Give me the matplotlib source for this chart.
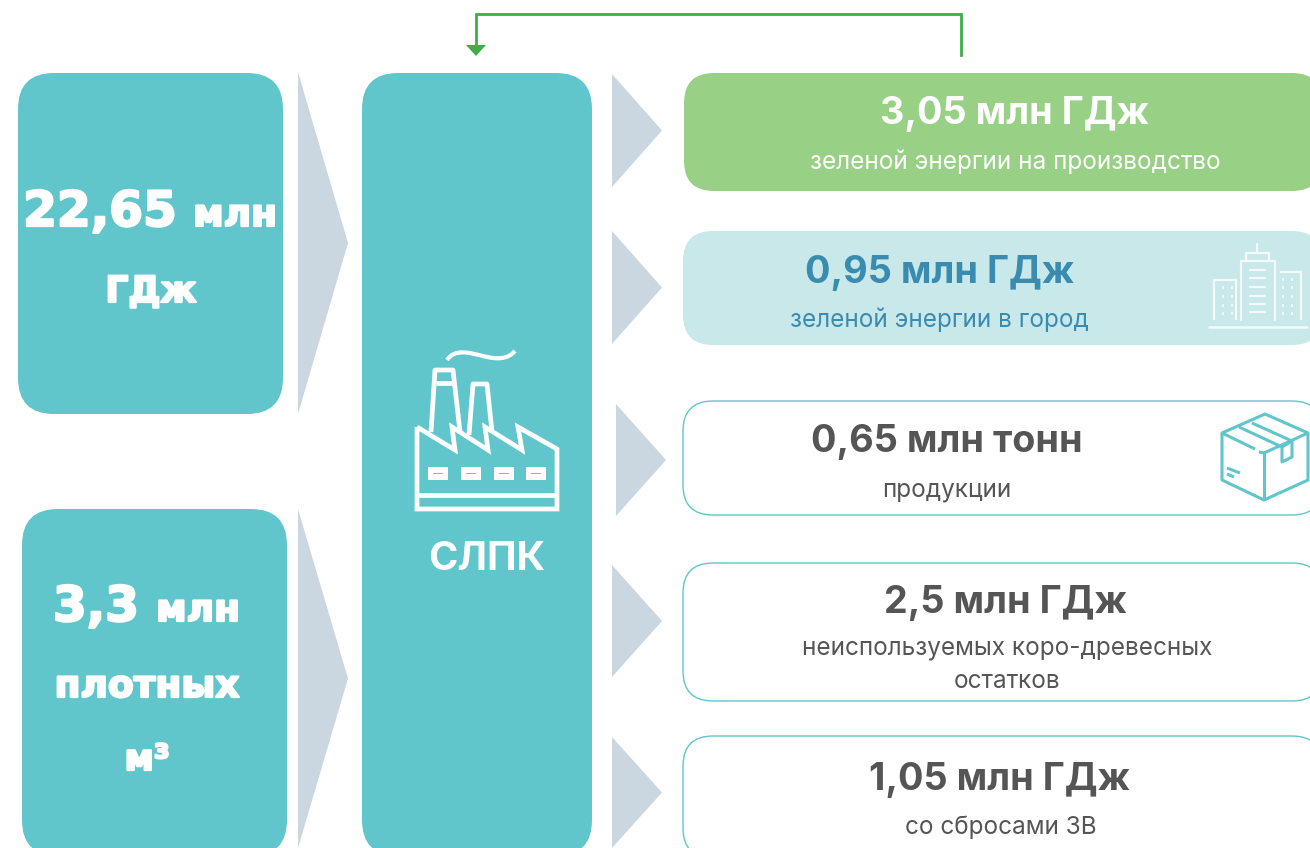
import matplotlib
matplotlib.use('Agg')
import matplotlib.pyplot as plt
import matplotlib.patheffects as pe
from matplotlib.patches import FancyBboxPatch, Polygon, PathPatch
from matplotlib.path import Path

plt.rcParams['font.family'] = ['Inter', 'DejaVu Sans']

W, H = 1310, 848
TEAL = '#60c6cc'
ARROW = '#cad6e0'
GREEN = '#98d085'
LIGHT = '#c9e8ea'
BLUE = '#3a8bb0'
GRAY = '#555555'
LINE = '#3fae49'

# output boxes: value, description
out_values = ['3,05 млн ГДж', '0,95 млн ГДж', '0,65 млн тонн', '2,5 млн ГДж', '1,05 млн ГДж']
out_labels = ['зеленой энергии на производство', 'зеленой энергии в город', 'продукции',
              'неиспользуемых коро-древесных\nостатков', 'со сбросами ЗВ']

fig = plt.figure(figsize=(W / 100, H / 100), dpi=100)
ax = fig.add_axes([0, 0, 1, 1])
ax.set_xlim(0, W)
ax.set_ylim(H, 0)
ax.axis('off')


def box(x0, y0, x1, y1, r, fc, ec='none', lw=1.0):
    p = FancyBboxPatch((x0 + r, y0 + r), x1 - x0 - 2 * r, y1 - y0 - 2 * r,
                       boxstyle='round,pad=%f,rounding_size=%f' % (r, r),
                       fc=fc, ec=ec, lw=lw)
    ax.add_patch(p)


def arrow(x0, x1, y0, y1):
    ax.add_patch(Polygon([(x0, y0), (x1, (y0 + y1) / 2), (x0, y1)], fc=ARROW, ec='none'))


def line(xs, ys, lw=3.4, c='white', cap='butt', join='miter'):
    ax.plot(xs, ys, color=c, lw=lw, solid_capstyle=cap, solid_joinstyle=join)


# left and middle blocks
box(18, 73, 283, 414, 36, TEAL)
box(22, 509, 287, 856, 36, TEAL)
box(362, 73, 592, 856, 36, TEAL)

arrow(298, 348, 72, 414)
arrow(298, 348, 509, 848)
arrow(612, 662, 74, 187)
arrow(612, 662, 231, 344)
arrow(616, 666, 404, 516)
arrow(612, 662, 565, 677)
arrow(612, 662, 737, 848)

# right blocks
box(684, 73, 1322, 191, 30, GREEN)
box(683, 231, 1322, 345, 30, LIGHT)
box(683, 401, 1322, 515, 30, 'white', TEAL, 1.0)
box(683, 563, 1322, 701, 30, 'white', TEAL, 1.0)
box(683, 736, 1322, 858, 30, 'white', TEAL, 1.0)

# recycle line on top
ax.plot([961, 961, 476, 476], [55, 14, 14, 46], color=LINE, lw=2, solid_joinstyle='miter')
ax.add_patch(Polygon([(466, 45), (486, 45), (476, 56)], fc=LINE, ec='none'))

# left text, DejaVu bold with a stroke gets near the black weight
heavy = dict(family=['DejaVu Sans'], weight='bold', color='white', ha='center', va='center',
             path_effects=[pe.withStroke(linewidth=1.6, foreground='white')])
ax.text(100, 212, '22,65', fontsize=35, **heavy)
ax.text(235, 216, 'млн', fontsize=27, **heavy)
ax.text(151, 292, 'ГДж', fontsize=26, **heavy)
ax.text(96, 607, '3,3', fontsize=35, **heavy)
ax.text(198, 611, 'млн', fontsize=27, **heavy)
ax.text(147, 687, 'плотных', fontsize=27, **heavy)
ax.text(147, 760, 'м³', fontsize=26, **heavy)

ax.text(487, 560, 'СЛПК', fontsize=28.5, ha='center', va='center', color='white', weight='bold')

# right text
val_x = [1015, 940, 947, 1006, 1000]
val_y = [114, 273, 442, 603, 780]
val_c = ['white', BLUE, GRAY, GRAY, GRAY]
lab_x = [1015, 939, 947, 1007, 1001]
lab_y = [162, 320, 490, 665, 827]
lab_c = ['white', BLUE, GRAY, GRAY, GRAY]
for i in range(5):
    ax.text(val_x[i], val_y[i], out_values[i], fontsize=27.2, weight='bold', color=val_c[i],
            ha='center', va='center')
    ax.text(lab_x[i], lab_y[i], out_labels[i], fontsize=17.5, color=lab_c[i], ha='center',
            va='center', linespacing=1.5)

# factory icon
line([417, 455, 452, 488, 485, 522, 518, 557, 557, 417, 417],
     [427, 450, 427, 450, 427, 450, 427, 449, 509, 509, 427])
line([417, 557], [495, 495])
line([431, 435, 453, 460], [432, 370, 370, 432], join='round')
line([436, 455], [383, 383])
line([469, 473, 487, 492], [435, 384, 384, 432], join='round')
smoke = Path([(447, 360), (455, 348), (470, 353), (483, 356), (498, 360), (508, 359), (515, 351)],
             [Path.MOVETO, Path.CURVE4, Path.CURVE4, Path.CURVE4, Path.CURVE4, Path.CURVE4, Path.CURVE4])
ax.add_patch(PathPatch(smoke, fc='none', ec='white', lw=3))
for wx in [428, 461, 494, 526]:
    ax.add_patch(plt.Rectangle((wx, 467), 20, 13, fc='white', ec='none'))
    ax.add_patch(plt.Rectangle((wx + 5, 472.5), 10, 1.6, fc=TEAL, ec='none'))

# city icon
cw = '#f3fafb'
line([1208, 1308], [327, 327], lw=1.8, c=cw)
line([1214, 1214, 1236, 1236], [320, 280, 280, 320], lw=1.6, c=cw)
line([1241, 1241, 1275, 1275], [321, 261, 261, 321], lw=1.6, c=cw)
line([1280, 1301, 1301], [272, 272, 320], lw=1.6, c=cw)
line([1246, 1246, 1269, 1269], [261, 253, 253, 261], lw=1.6, c=cw)
line([1257, 1257], [253, 243], lw=1.6, c=cw)
for yy in [270, 278, 287, 296, 304, 312]:
    line([1249, 1266], [yy, yy], lw=1.6, c=cw)
for yy in [287, 296, 305, 313]:
    for xx in [1223, 1232, 1283, 1292]:
        line([xx, xx], [yy - 1.5, yy + 1.5], lw=1.3, c=cw)
for xx in [1283, 1292]:
    line([xx, xx], [277.5, 280.5], lw=1.3, c=cw)

# box icon
bw = 2.2
line([1222, 1265, 1308], [433, 414, 433], lw=bw, c=TEAL, join='round')
line([1255, 1222, 1222, 1264, 1308, 1308, 1275], [449, 433, 480, 500, 480, 433, 448], lw=bw, c=TEAL, join='round')
line([1259, 1264, 1275], [452, 453, 448], lw=bw, c=TEAL)
line([1264, 1264], [453, 500], lw=bw, c=TEAL)
line([1239, 1282, 1282, 1292, 1292, 1252], [427, 447, 462, 457, 441, 423], lw=bw, c=TEAL, join='round')
line([1282, 1292], [447, 441], lw=bw, c=TEAL)
line([1227, 1240], [468, 473], lw=bw, c=TEAL)
line([1227, 1234], [474, 477], lw=bw, c=TEAL)

fig.savefig('out.png', dpi=100)
